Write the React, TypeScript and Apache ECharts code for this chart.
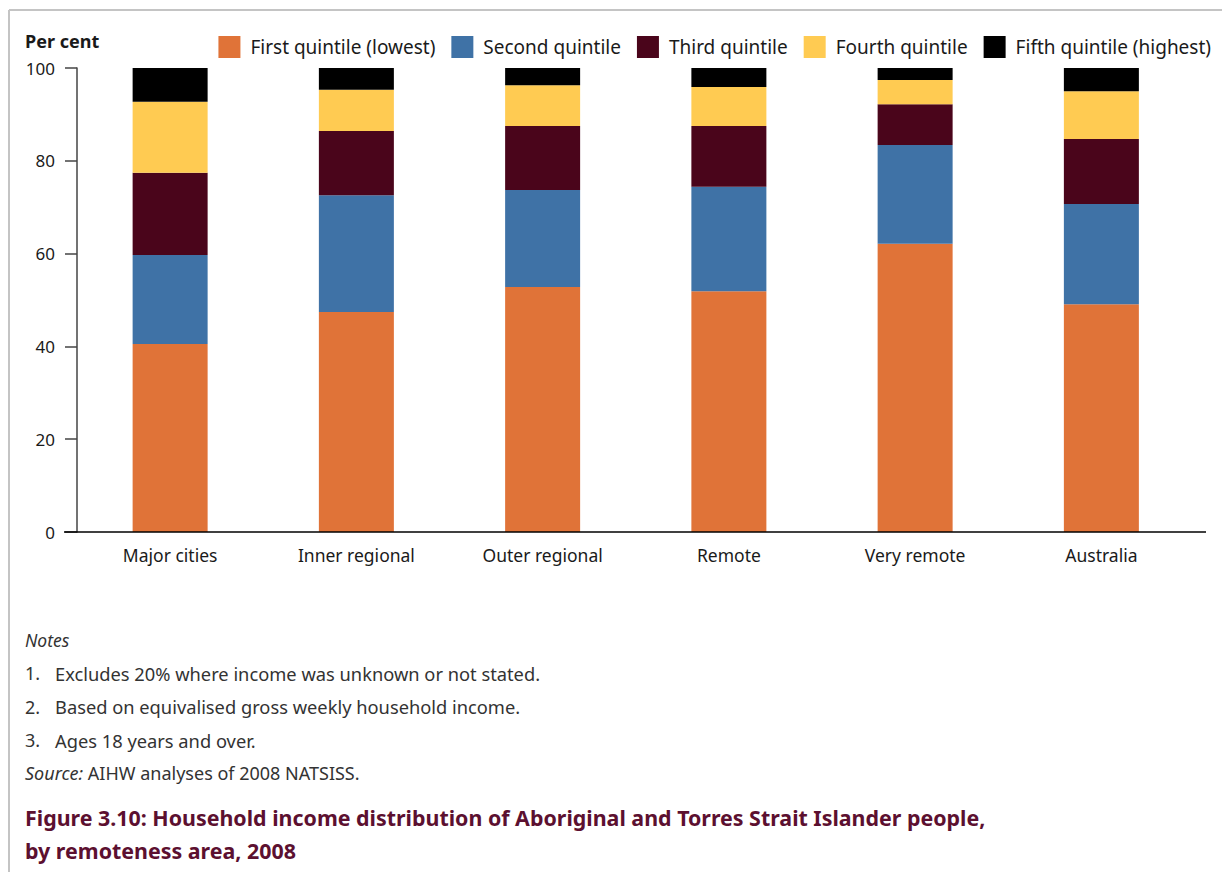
import React, { useEffect, useRef } from "react";
import * as echarts from "echarts";

const categories = ["Major cities", "Inner regional", "Outer regional", "Remote", "Very remote", "Australia"];
const seriesNames = [
  "First quintile (lowest)",
  "Second quintile",
  "Third quintile",
  "Fourth quintile",
  "Fifth quintile (highest)",
];
const firstQ = [40.5, 47.4, 52.8, 51.9, 62.1, 49.1];
const secondQ = [19.2, 25.2, 20.9, 22.5, 21.3, 21.6];
const thirdQ = [17.7, 13.8, 13.8, 13.1, 8.8, 14.0];
const fourthQ = [15.3, 8.9, 8.8, 8.4, 5.2, 10.3];
const fifthQ = [7.3, 4.7, 3.7, 4.1, 2.6, 5.0];
const colors = ["#e07338", "#3f72a6", "#4a051b", "#ffcb52", "#000000"];
const yTicks = [0, 20, 40, 60, 80, 100];
const notes = [
  "Excludes 20% where income was unknown or not stated.",
  "Based on equivalised gross weekly household income.",
  "Ages 18 years and over.",
];
const titleLines = [
  "Figure 3.10: Household income distribution of Aboriginal and Torres Strait Islander people,",
  "by remoteness area, 2008",
];

const FONT = "'Noto Sans', 'Open Sans', sans-serif";
const TEXT = "#1a1a1a";

export default function App() {
  const ref = useRef<HTMLDivElement>(null);
  useEffect(() => {
    if (!ref.current) return;
    const chart = echarts.init(ref.current, null, { renderer: "svg" });
    const data = [firstQ, secondQ, thirdQ, fourthQ, fifthQ];
    const graphics: any[] = [
      { type: "line", shape: { x1: 9, y1: 10, x2: 9, y2: 872 }, style: { stroke: "#c4c4c4", lineWidth: 2 } },
      { type: "line", shape: { x1: 9, y1: 10, x2: 1222, y2: 10 }, style: { stroke: "#c4c4c4", lineWidth: 2 } },
      { type: "line", shape: { x1: 64, y1: 532, x2: 1206, y2: 532 }, style: { stroke: "#000", lineWidth: 1.5 }, z: 10 },
      {
        type: "text",
        x: 25,
        y: 41,
        style: { text: "Per cent", fontSize: 18, fontWeight: "bold", fontFamily: FONT, fill: TEXT, verticalAlign: "middle" },
      },
      {
        type: "text",
        x: 25,
        y: 640,
        style: { text: "Notes", fontSize: 17.5, fontStyle: "italic", fontFamily: FONT, fill: "#333", verticalAlign: "middle" },
      },
    ];
    notes.forEach((n, i) => {
      const y = 673 + i * 33.5;
      graphics.push({
        type: "text",
        x: 25,
        y,
        style: { text: `${i + 1}.`, fontSize: 18, fontFamily: FONT, fill: "#333", verticalAlign: "middle" },
      });
      graphics.push({
        type: "text",
        x: 55,
        y,
        style: { text: n, fontSize: 18.3, fontFamily: FONT, fill: "#333", verticalAlign: "middle" },
      });
    });
    graphics.push({
      type: "text",
      x: 25,
      y: 773,
      style: {
        text: "{i|Source:} AIHW analyses of 2008 NATSISS.",
        fontSize: 18,
        fontFamily: FONT,
        fill: "#333",
        verticalAlign: "middle",
        rich: { i: { fontStyle: "italic", fontSize: 18, fontFamily: FONT, fill: "#333" } },
      },
    });
    titleLines.forEach((t, i) => {
      graphics.push({
        type: "text",
        x: 25,
        y: 817 + i * 33,
        style: { text: t, fontSize: 21.4, fontWeight: "bold", fontFamily: FONT, fill: "#5c1030", verticalAlign: "middle" },
      });
    });

    chart.setOption({
      animation: false,
      backgroundColor: "#fff",
      textStyle: { fontFamily: FONT },
      color: colors,
      legend: {
        right: 6,
        top: 31,
        itemWidth: 22,
        itemHeight: 22,
        itemGap: 16,
        icon: "rect",
        textStyle: { fontSize: 19, color: TEXT, fontFamily: FONT, padding: [0, 0, 0, 5] },
        data: seriesNames,
      },
      grid: { left: 77, right: 27.5, top: 68, bottom: 340, containLabel: false },
      xAxis: {
        type: "category",
        data: categories,
        axisLine: { show: false },
        axisTick: { show: false },
        axisLabel: { fontSize: 17.5, color: TEXT, margin: 14, fontFamily: FONT },
      },
      yAxis: {
        type: "value",
        min: 0,
        max: 100,
        interval: 20,
        axisLine: { show: true, lineStyle: { color: "#444", width: 1.5 } },
        axisTick: { show: true, length: 12, lineStyle: { color: "#444", width: 1.5 } },
        axisLabel: {
          fontSize: 17,
          color: TEXT,
          margin: 22,
          fontFamily: FONT,
          formatter: (v: number) => (yTicks.includes(v) ? String(v) : ""),
        },
        splitLine: { show: false },
      },
      series: seriesNames.map((name, i) => ({
        name,
        type: "bar",
        stack: "total",
        barWidth: 75,
        data: data[i],
        itemStyle: { color: colors[i] },
      })),
      graphic: graphics,
    });
    return () => chart.dispose();
  }, []);
  return (
    <div
      ref={ref}
      style={{ position: "absolute", left: 0, top: 0, width: 1222, height: 872, background: "#fff" }}
    />
  );
}
